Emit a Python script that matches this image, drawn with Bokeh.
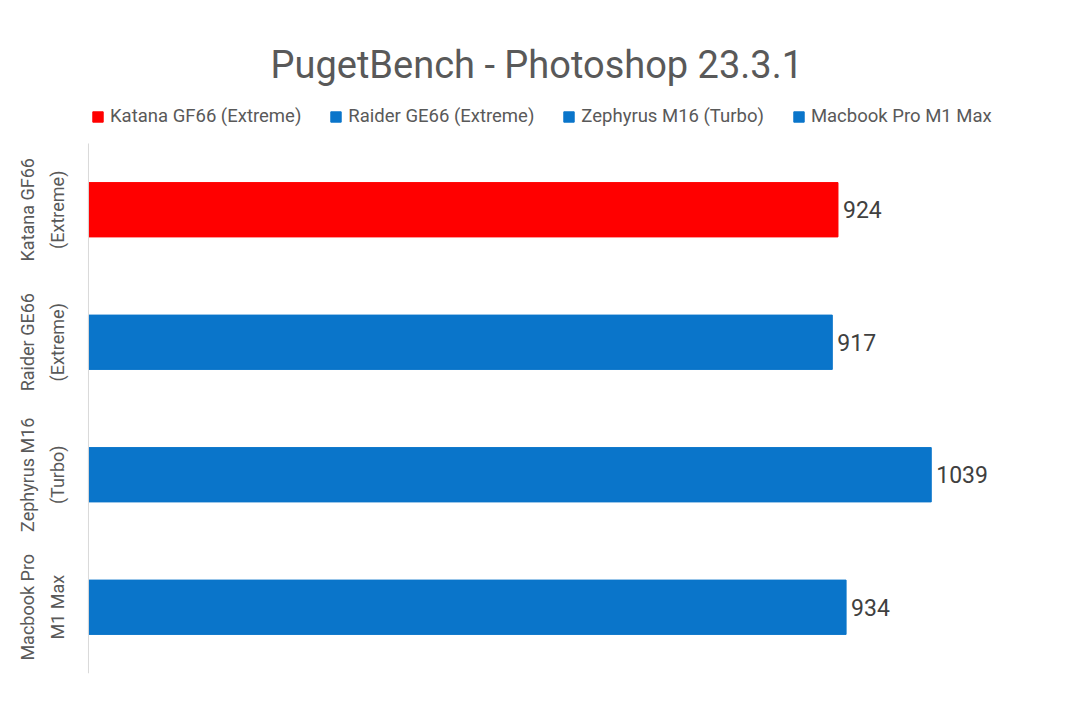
from bokeh.plotting import figure
from bokeh.models import ColumnDataSource, Range1d, Legend, LegendItem
from bokeh.embed import file_html
from bokeh.resources import INLINE
from bokeh.core.properties import value
import numpy as np
import math

# ---- data ----
categories = ["Katana GF66 (Extreme)", "Raider GE66 (Extreme)", "Zephyrus M16 (Turbo)", "Macbook Pro M1 Max"]
label_line1 = ["Katana GF66", "Raider GE66", "Zephyrus M16", "Macbook Pro"]
label_line2 = ["(Extreme)", "(Extreme)", "(Turbo)", "M1 Max"]
scores = [924, 917, 1039, 934]
colors = ["#FF0000", "#0A75CA", "#0A75CA", "#0A75CA"]

FONT = "Roboto"
TXT = "#595959"

n = len(categories)
ypos = np.arange(n)[::-1].astype(float)   # first category on top

src = ColumnDataSource(dict(cat=categories, y=ypos, score=scores, color=colors,
                            label=[str(s) for s in scores],
                            l1=label_line1, l2=label_line2,
                            x1=[-75.0] * n, x2=[-38.5] * n))

p = figure(width=1064, height=704, output_backend="svg", toolbar_location=None,
           title="PugetBench - Photoshop 23.3.1",
           y_range=Range1d(-0.5, n - 0.1),
           x_range=Range1d(-98.6, 1186),
           min_border_left=8, min_border_right=14, min_border_bottom=31,
           min_border_top=90)

p.title.align = "left"
p.title.offset = 262
p.title.text_font = FONT
p.title.text_font_size = "38px"
p.title.text_color = TXT
p.title.text_font_style = "normal"
p.title.standoff = 7

r = p.hbar(y="y", right="score", height=0.41, color="color", source=src,
           line_color="color")

p.text(x="score", y="y", text="label", source=src, x_offset=5,
       text_baseline="middle", text_align="left", text_font=value(FONT),
       text_font_size="23px", text_color="#404040")

# category labels (rotated, two lines)
for col, xcol in (("l1", "x1"), ("l2", "x2")):
    p.text(x=xcol, y="y", text=col, source=src, angle=math.pi / 2,
           text_align="center", text_baseline="middle", text_font=value(FONT),
           text_font_size="18px", text_color=TXT)

# value-axis baseline spanning the category band
p.segment(x0=[0], y0=[-0.5], x1=[0], y1=[n - 0.5], line_color="#D9D9D9", line_width=1)

# legend
items = [LegendItem(label=c, renderers=[r], index=i) for i, c in enumerate(categories)]
legend = Legend(items=items, orientation="horizontal", location=(83, 546),
                label_text_font=FONT, label_text_font_size="18.5px", label_text_color=TXT,
                glyph_width=13, glyph_height=13, spacing=28, label_standoff=6,
                border_line_color=None, background_fill_alpha=0, padding=0, margin=0)
p.add_layout(legend, "center")

p.xaxis.visible = False
p.yaxis.visible = False
p.xgrid.visible = False
p.ygrid.visible = False
p.outline_line_color = None

open("out.html", "w").write(file_html(p, INLINE))
